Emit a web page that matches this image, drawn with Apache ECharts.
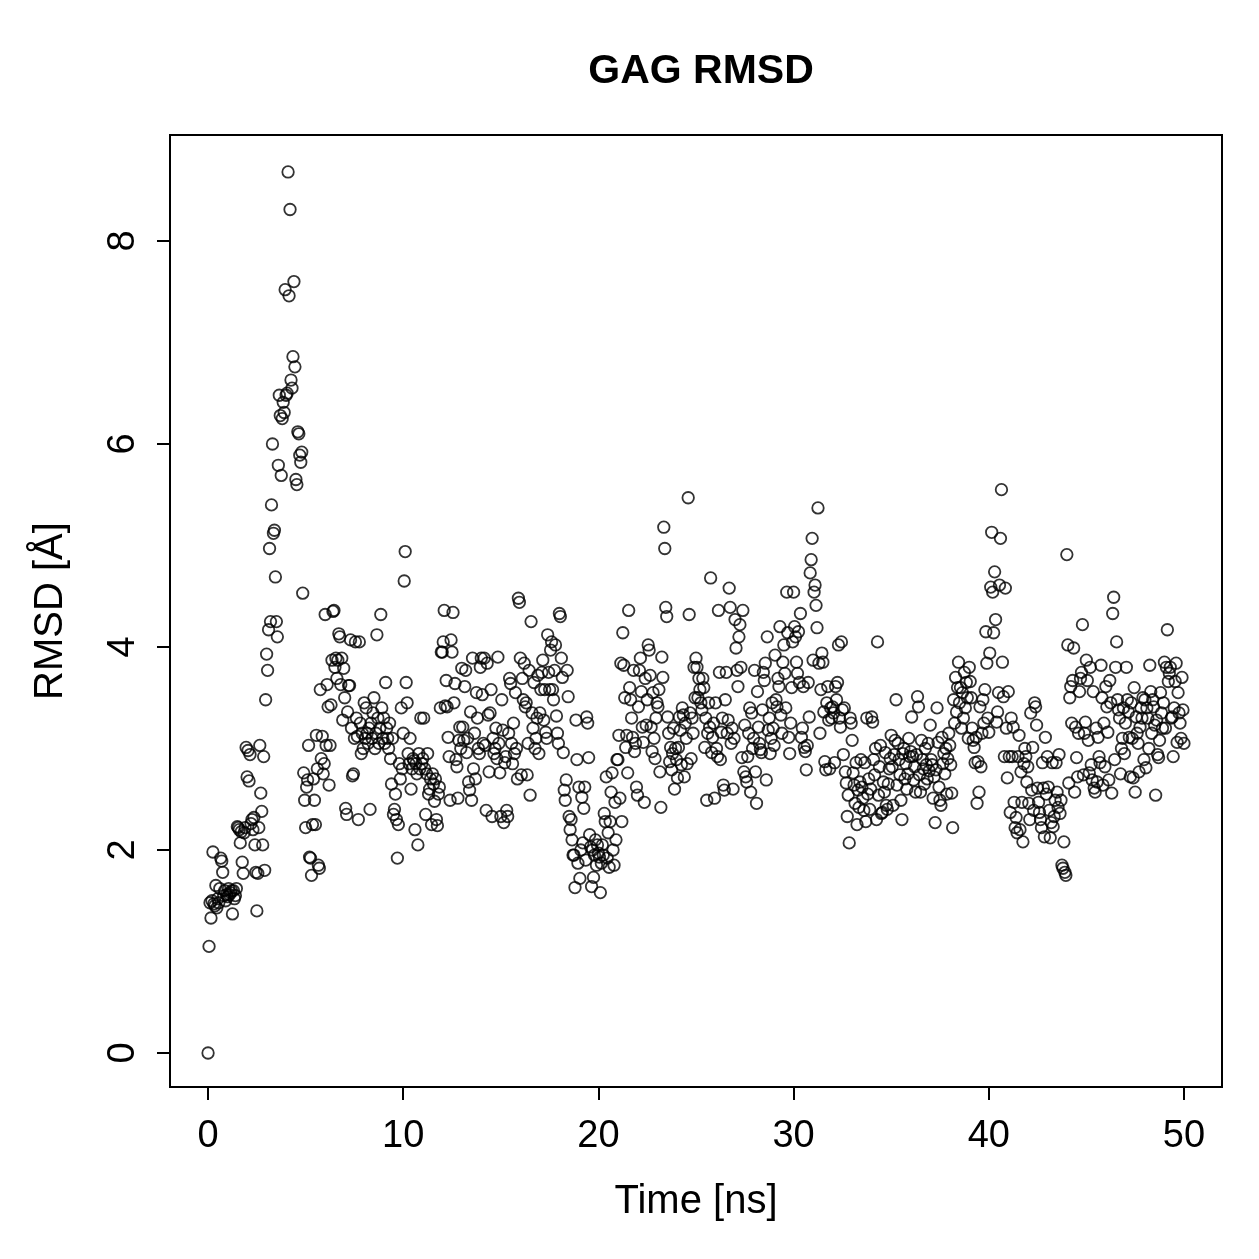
<!DOCTYPE html>
<html>
<head>
<meta charset="utf-8">
<script src="https://cdn.jsdelivr.net/npm/echarts@6/dist/echarts.min.js"></script>
<style>
  html, body { margin: 0; padding: 0; background: #fff; }
  #main { width: 1259px; height: 1259px; }
</style>
</head>
<body>
<div id="main"></div>
<script>
// time step between frames (ns)
var dt = 0.05;
// RMSD values, one row per ns (20 frames), last value at 50 ns
var rmsd = [
  0.00, 1.05, 1.48, 1.33, 1.50, 1.98, 1.47, 1.45, 1.65, 1.43, 1.52, 1.48, 1.62, 1.92, 1.89, 1.78, 1.55, 1.60, 1.50, 1.56,
  1.54, 1.62, 1.56, 1.58, 1.60, 1.37, 1.60, 1.52, 1.55, 1.62, 2.23, 2.22, 2.20, 2.07, 2.18, 1.88, 1.77, 2.17, 2.22, 3.01,
  2.72, 2.98, 2.68, 2.94, 2.26, 2.30, 2.20, 2.32, 2.05, 1.78, 1.40, 1.77, 2.22, 3.03, 2.56, 2.38, 2.05, 2.92, 1.80, 3.48,
  3.93, 3.77, 4.17, 4.97, 4.25, 5.40, 6.00, 5.12, 5.15, 4.69, 4.25, 4.10, 5.79, 6.48, 6.28, 5.69, 6.25, 6.41, 6.31, 7.52,
  6.48, 6.50, 8.68, 7.46, 8.31, 6.63, 6.55, 6.86, 7.60, 6.76, 5.65, 5.60, 6.12, 6.10, 5.89, 5.82, 5.92, 4.53, 2.76, 2.49,
  2.22, 2.62, 2.69, 3.03, 1.93, 1.92, 1.75, 2.25, 2.70, 2.49, 2.25, 3.13, 2.80, 1.85, 1.82, 3.58, 2.90, 3.12, 2.75, 2.85,
  4.32, 3.03, 3.63, 3.41, 2.64, 3.03, 3.43, 3.87, 4.35, 4.36, 3.80, 3.89, 3.69, 3.87, 4.13, 4.10, 3.63, 3.89, 3.28, 3.79,
  3.50, 2.41, 2.35, 3.36, 3.62, 3.62, 4.07, 3.20, 2.73, 2.75, 3.10, 4.05, 3.30, 3.12, 2.30, 4.05, 3.25, 2.95, 3.15, 3.00,
  3.45, 3.10, 3.40, 3.15, 3.05, 3.20, 2.40, 3.25, 3.10, 3.35, 3.50, 3.00, 3.15, 4.12, 3.30, 3.05, 3.20, 4.32, 3.40, 3.10,
  3.30, 3.05, 3.65, 3.20, 3.10, 3.00, 3.25, 2.90, 2.65, 3.10, 2.35, 2.40, 2.55, 2.30, 1.92, 2.25, 2.85, 2.70, 3.40, 2.80,
  3.15, 4.65, 4.94, 3.65, 3.45, 2.95, 2.85, 3.10, 2.60, 2.80, 2.90, 2.88, 2.20, 2.85, 2.75, 2.05, 2.95, 2.80, 3.30, 2.85,
  2.90, 3.30, 2.80, 2.35, 2.75, 2.95, 2.55, 2.60, 2.70, 2.25, 2.75, 2.65, 2.48, 2.70, 2.30, 2.24, 2.55, 2.62, 3.40, 3.95,
  3.95, 4.05, 4.36, 3.42, 3.67, 3.41, 3.11, 2.92, 2.49, 4.07, 3.95, 4.34, 3.45, 3.64, 2.89, 2.82, 2.51, 3.08, 3.21, 3.00,
  3.79, 3.21, 3.08, 3.61, 3.77, 2.96, 3.10, 2.67, 2.59, 3.36, 2.49, 3.89, 2.80, 3.15, 2.70, 3.55, 3.30, 3.00, 2.95, 3.80,
  3.89, 3.53, 3.05, 3.89, 3.03, 2.39, 3.84, 3.33, 2.77, 3.35, 3.58, 2.33, 3.10, 2.95, 3.00, 3.20, 2.90, 3.90, 3.05, 2.76,
  2.33, 3.48, 3.18, 2.27, 2.86, 2.92, 2.39, 2.33, 3.15, 3.69, 3.64, 3.05, 2.85, 3.25, 2.95, 3.55, 3.00, 2.70, 4.48, 4.44,
  3.89, 2.74, 3.69, 3.48, 3.84, 3.41, 3.45, 2.74, 3.05, 3.77, 2.54, 4.25, 3.35, 3.20, 3.65, 3.00, 3.10, 3.30, 3.72, 2.95,
  3.35, 3.58, 3.75, 3.87, 3.28, 3.58, 3.16, 3.10, 4.12, 3.75, 3.58, 3.97, 4.05, 3.58, 3.48, 3.77, 4.02, 3.32, 3.15, 3.05,
  4.33, 4.30, 3.89, 3.70, 2.96, 2.59, 2.49, 2.69, 3.77, 3.51, 2.33, 2.20, 2.30, 2.10, 1.95, 1.95, 1.63, 3.28, 2.89, 1.87,
  2.62, 1.72, 2.00, 2.52, 2.07, 2.41, 2.62, 1.90, 3.31, 3.25, 2.91, 2.15, 2.03, 1.64, 2.00, 1.73, 1.95, 2.10, 1.85, 2.05,
  1.97, 1.93, 1.58, 1.87, 2.05, 1.95, 2.36, 2.28, 2.72, 1.92, 2.17, 1.83, 2.28, 2.57, 2.76, 2.00, 1.85, 2.47, 2.10, 2.89,
  2.89, 3.13, 2.51, 3.84, 2.28, 4.14, 3.82, 3.50, 3.01, 3.13, 2.76, 4.36, 3.60, 3.48, 3.30, 3.11, 3.77, 2.97, 3.05, 2.62,
  2.54, 3.41, 3.77, 3.89, 3.56, 3.21, 3.06, 2.47, 3.69, 3.23, 3.48, 4.02, 3.97, 3.72, 3.21, 2.97, 3.55, 3.10, 2.90, 3.30,
  3.45, 3.41, 3.58, 2.77, 2.42, 3.90, 3.70, 5.18, 4.97, 4.39, 4.30, 3.31, 3.15, 2.87, 3.01, 2.79, 2.95, 3.20, 2.60, 3.00,
  2.89, 2.71, 3.01, 3.31, 3.18, 2.84, 3.40, 3.33, 2.72, 3.25, 3.10, 2.85, 5.47, 4.32, 3.35, 2.90, 3.30, 3.15, 3.80, 3.50,
  3.89, 3.80, 3.50, 3.69, 3.58, 3.45, 3.38, 3.69, 3.60, 3.01, 3.30, 2.49, 3.15, 3.45, 3.21, 4.68, 2.96, 3.11, 3.25, 2.51,
  3.45, 3.00, 2.92, 4.36, 3.75, 2.89, 3.16, 3.30, 2.64, 2.59, 3.48, 3.75, 3.15, 3.28, 4.58, 4.39, 3.05, 3.20, 2.60, 3.10,
  4.27, 3.99, 3.77, 3.61, 4.10, 4.22, 3.80, 2.91, 4.36, 2.77, 3.23, 2.72, 2.67, 2.92, 3.15, 3.40, 2.57, 3.35, 3.00, 3.10,
  3.77, 2.77, 2.46, 3.56, 3.21, 3.05, 2.99, 2.96, 3.38, 3.75, 3.67, 3.84, 2.69, 4.10, 3.18, 3.30, 2.95, 3.10, 3.45, 3.20,
  3.03, 3.92, 3.48, 3.41, 3.69, 3.61, 4.20, 3.33, 3.15, 3.85, 4.02, 3.74, 3.40, 4.54, 4.14, 3.11, 2.95, 3.25, 3.60, 4.05,
  4.54, 4.20, 4.10, 3.85, 3.74, 4.15, 3.65, 4.33, 3.11, 3.20, 3.61, 3.01, 2.97, 2.79, 3.03, 3.65, 3.31, 4.73, 4.86, 5.07,
  3.87, 4.54, 4.61, 4.41, 4.19, 5.37, 3.84, 3.15, 3.58, 3.94, 3.85, 3.36, 2.87, 2.79, 3.45, 3.61, 3.28, 2.80, 3.40, 3.30,
  3.41, 3.35, 2.86, 3.61, 3.48, 3.65, 4.02, 3.30, 3.21, 4.05, 3.38, 2.94, 3.40, 2.77, 2.66, 2.33, 2.54, 2.07, 3.30, 3.25,
  3.08, 2.76, 2.64, 2.46, 2.86, 2.25, 2.59, 2.42, 2.67, 2.89, 2.62, 2.51, 2.39, 2.86, 2.28, 3.30, 2.55, 2.70, 2.40, 2.60,
  3.31, 3.26, 2.89, 2.74, 3.00, 2.30, 4.05, 2.54, 2.82, 3.03, 2.36, 2.37, 2.67, 2.57, 2.96, 2.44, 2.40, 2.65, 2.80, 2.90,
  3.13, 2.82, 2.44, 2.94, 3.08, 3.48, 2.64, 3.05, 2.89, 2.74, 2.49, 2.30, 2.95, 3.00, 2.70, 2.85, 2.60, 2.75, 3.10, 2.92,
  2.97, 3.31, 2.92, 2.69, 2.82, 2.57, 2.94, 3.51, 3.41, 2.74, 2.57, 3.08, 2.89, 2.80, 2.65, 3.00, 2.84, 2.70, 3.05, 2.78,
  3.23, 2.89, 2.84, 2.51, 2.72, 2.27, 2.79, 3.40, 3.06, 2.62, 2.49, 2.44, 3.11, 2.85, 2.95, 2.75, 3.00, 2.55, 2.90, 3.15,
  3.03, 2.84, 2.56, 2.22, 3.48, 3.25, 3.70, 3.36, 3.60, 3.85, 3.45, 3.60, 3.20, 3.55, 3.30, 3.75, 3.40, 3.65, 3.50, 3.10,
  3.80, 3.66, 3.50, 3.20, 3.08, 3.01, 2.86, 3.11, 2.46, 2.87, 2.57, 3.41, 2.82, 3.15, 3.48, 3.25, 3.58, 4.15, 3.84, 3.30,
  3.16, 3.94, 4.59, 5.13, 4.54, 4.14, 4.74, 4.27, 3.26, 3.36, 3.55, 4.61, 5.07, 5.55, 3.85, 3.51, 2.92, 4.58, 3.20, 2.71,
  3.56, 2.92, 2.37, 3.30, 2.92, 3.21, 2.47, 2.22, 2.32, 2.17, 2.92, 3.13, 2.20, 2.77, 2.47, 2.08, 2.85, 3.00, 2.92, 2.67,
  2.82, 2.46, 2.30, 3.35, 2.59, 3.01, 2.39, 3.45, 3.41, 3.23, 2.61, 2.47, 2.37, 2.30, 2.22, 2.86, 2.61, 2.13, 3.11, 2.55,
  2.92, 2.62, 2.39, 2.12, 2.27, 2.86, 2.23, 2.33, 2.49, 2.86, 2.57, 2.42, 2.94, 2.36, 2.49, 1.85, 1.82, 2.08, 1.78, 1.75,
  4.91, 4.02, 2.66, 3.50, 3.61, 3.25, 3.67, 3.99, 2.57, 3.21, 2.91, 2.72, 3.15, 3.56, 3.69, 3.75, 4.22, 2.74, 3.15, 3.26,
  3.87, 3.67, 3.08, 2.76, 3.80, 2.84, 2.69, 3.56, 2.61, 2.57, 3.20, 2.67, 3.11, 2.92, 2.86, 3.82, 3.50, 2.64, 3.25, 2.82,
  3.61, 3.41, 3.16, 2.69, 3.67, 3.45, 2.56, 4.33, 4.49, 2.89, 3.80, 4.05, 3.48, 3.38, 3.30, 2.75, 3.00, 3.10, 3.40, 2.95,
  3.25, 3.80, 3.48, 3.36, 3.11, 2.72, 3.45, 3.10, 2.71, 3.60, 2.57, 3.31, 3.15, 3.05, 2.77, 3.21, 3.40, 3.30, 3.50, 2.89,
  3.48, 2.81, 3.40, 3.30, 3.00, 3.82, 3.56, 3.15, 3.48, 3.41, 3.23, 2.54, 3.28, 2.94, 2.91, 3.08, 3.55, 3.35, 3.20, 3.45,
  3.85, 3.20, 3.80, 4.17, 3.66, 3.74, 3.80, 3.30, 3.31, 2.92, 3.40, 3.66, 3.84, 3.06, 3.55, 3.35, 3.25, 3.10, 3.70, 3.38,
  3.05
];
var xTicks = [0, 10, 20, 30, 40, 50];
var yTicks = [0, 2, 4, 6, 8];

var points = rmsd.map(function (v, i) { return [+(i * dt).toFixed(2), v]; });

var chart = echarts.init(document.getElementById('main'));
var font = '"Liberation Sans", Arial, Helvetica, sans-serif';

chart.setOption({
    animation: false,
    backgroundColor: '#fff',
    title: {
        text: 'GAG RMSD',
        left: 696,
        top: 46,
        textAlign: 'center',
        textStyle: { fontFamily: font, fontSize: 41, fontWeight: 'bold', color: '#000' }
    },
    grid: {
        left: 170, top: 135, width: 1052, height: 952,
        show: true, borderColor: '#000', borderWidth: 2, backgroundColor: 'transparent'
    },
    xAxis: {
        type: 'value',
        min: -1.95, max: 51.95,
        name: 'Time [ns]',
        nameLocation: 'middle',
        nameGap: 95,
        nameTextStyle: { fontFamily: font, fontSize: 40, color: '#000' },
        axisLine: { show: false, onZero: false },
        splitLine: { show: false },
        axisTick: { show: true, inside: false, length: 13, customValues: xTicks, lineStyle: { color: '#000', width: 2 } },
        axisLabel: { customValues: xTicks, margin: 31, fontFamily: font, fontSize: 38, color: '#000' }
    },
    yAxis: {
        type: 'value',
        min: -0.335, max: 9.044,
        name: 'RMSD [Å]',
        nameLocation: 'middle',
        nameGap: 99,
        nameRotate: 90,
        nameTextStyle: { fontFamily: font, fontSize: 40, color: '#000' },
        axisLine: { show: false, onZero: false },
        splitLine: { show: false },
        axisTick: { show: true, inside: false, length: 13, customValues: yTicks, lineStyle: { color: '#000', width: 2 } },
        axisLabel: { customValues: yTicks, rotate: 90, margin: 27, fontFamily: font, fontSize: 38, color: '#000' }
    },
    series: [{
        type: 'scatter',
        data: points,
        symbol: 'circle',
        symbolSize: 11.5,
        itemStyle: { color: 'transparent', borderColor: '#000', borderWidth: 1.8 },
        silent: true
    }]
});
</script>
</body>
</html>
